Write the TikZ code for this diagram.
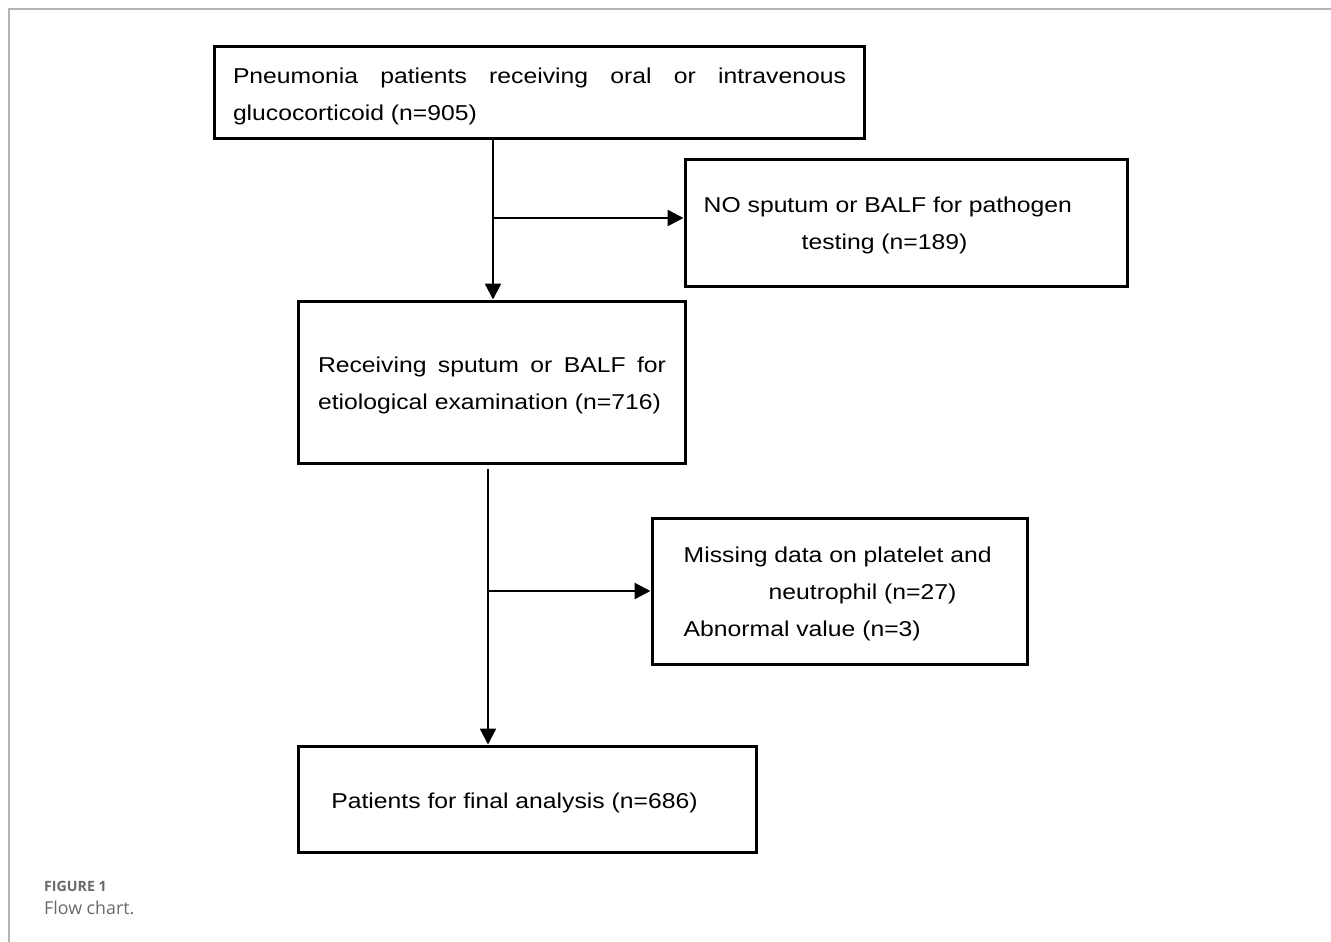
\documentclass[tikz,border=0pt]{standalone}
\usepackage{fontspec}
\setmainfont{Liberation Sans}
\newfontfamily\boxfont[FakeStretch=1.15]{Liberation Sans}
\newfontfamily\capfont{Open Sans}
\usetikzlibrary{arrows.meta}
\definecolor{framegray}{HTML}{B4B4B4}
\definecolor{capgray}{HTML}{6A6A6A}
\tikzset{
  box/.style={draw=black, line width=3pt, rectangle, inner sep=0pt},
  txt/.style={font=\boxfont\fontsize{21.5}{37}\selectfont, inner sep=0pt},
  conn/.style={line width=2.4pt, -{Triangle[length=16pt,width=16pt]}},
}
\begin{document}
\begin{tikzpicture}[x=1pt,y=-1pt]
\useasboundingbox (0,0) rectangle (1331,942);
\fill[white] (0,0) rectangle (1331,942);
% frame
\draw[framegray, line width=1.5pt] (9,942) -- (9,9) -- (1331,9);
% boxes
\node[box, minimum width=650pt, minimum height=91pt] (b1) at (539,92.5) {};
\node[txt, text width=613pt, align=justify] (t1) at (539.5,96) {Pneumonia patients receiving oral or intravenous\linebreak glucocorticoid (n=905)};
\node[box, minimum width=442pt, minimum height=127pt] (b2) at (906,222.5) {};
\node[txt, anchor=west, align=left] (t2) at ([xshift=20pt,yshift=-3pt]b2.west) {NO sputum or BALF for pathogen\\\hspace*{98pt}testing (n=189)};
\node[box, minimum width=387pt, minimum height=162pt] (b3) at (491.5,382) {};
\node[txt, text width=348pt, align=justify] (t3) at (492,385) {Receiving sputum or BALF for\linebreak etiological examination (n=716)};
\node[box, minimum width=375pt, minimum height=146pt] (b4) at (839.5,591) {};
\node[txt, anchor=west, align=left] (t4) at ([xshift=33pt,yshift=-3pt]b4.west) {Missing data on platelet and\\\hspace*{85pt}neutrophil (n=27)\\Abnormal value (n=3)};
\node[box, minimum width=458pt, minimum height=106pt] (b5) at (527,799) {};
\node[txt] (t5) at (514.5,803) {Patients for final analysis (n=686)};
% connectors
\coordinate (j1) at (493,218);
\coordinate (s2) at (488,469);
\coordinate (j2) at (488,591);
\draw[conn] (b1.south -| j1) -- (b3.north -| j1);
\draw[conn] (j1) -- (b2.west |- j1);
\draw[conn] (s2) -- (b5.north -| s2);
\draw[conn] (j2) -- (b4.west |- j2);
% caption
\node[anchor=base west, inner sep=0pt, text=capgray, font=\capfont\fontsize{14.2}{16}\selectfont\bfseries] (c1) at (44,891) {FIGURE 1};
\node[anchor=base west, inner sep=0pt, text=capgray, font=\capfont\fontsize{17.8}{20}\selectfont] (c2) at (44,914) {Flow chart.};
\end{tikzpicture}
\end{document}
